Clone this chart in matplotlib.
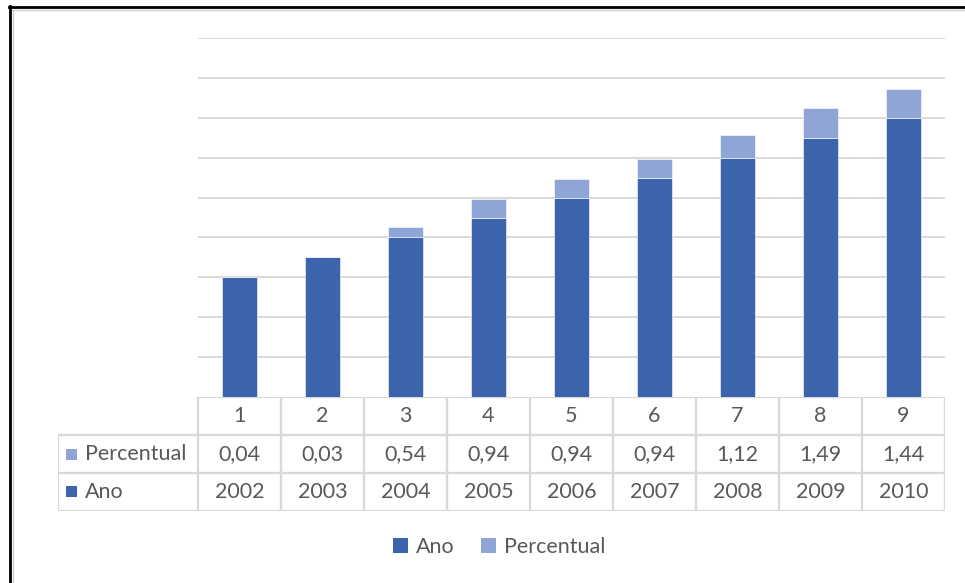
import matplotlib
matplotlib.use("Agg")
import matplotlib.pyplot as plt
from matplotlib.lines import Line2D
from matplotlib.patches import Rectangle, Patch

plt.rcParams['font.family'] = ['Lato', 'DejaVu Sans']

# Data
categories = ["1", "2", "3", "4", "5", "6", "7", "8", "9"]
ano = [2002, 2003, 2004, 2005, 2006, 2007, 2008, 2009, 2010]
percentual = [0.04, 0.03, 0.54, 0.94, 0.94, 0.94, 1.12, 1.49, 1.44]
percentual_labels = ["0,04", "0,03", "0,54", "0,94", "0,94", "0,94", "1,12", "1,49", "1,44"]

DARK = "#3B64AD"
LIGHT = "#8FA5D6"
GRID = "#D9D9D9"
TEXT = "#595959"
FS = 15.5

W, H = 965, 583
fig = plt.figure(figsize=(W / 100, H / 100), dpi=100)
fig.patch.set_facecolor("white")

def fx(px):
    return px / W

def fy(py):
    return 1 - py / H

# Plot area
left, right, top, bottom = 198, 945, 38, 397
ax = fig.add_axes([fx(left), fy(bottom), fx(right - left), (bottom - top) / H])
n = len(categories)
x = list(range(n))
ymin, ymax = 1996, 2014
ax.bar(x, [a - ymin for a in ano], bottom=ymin, width=0.41, color=DARK,
       edgecolor="white", linewidth=0.4, zorder=3, label="Ano")
ax.bar(x, percentual, bottom=ano, width=0.41, color=LIGHT,
       edgecolor="white", linewidth=0.4, zorder=3, label="Percentual")
ax.set_xlim(-0.5, n - 0.5)
ax.set_ylim(ymin, ymax)
ax.set_yticks(range(ymin + 2, ymax + 1, 2))
ax.yaxis.grid(True, color=GRID, linewidth=1.4, zorder=0)
ax.tick_params(left=False, bottom=False, labelleft=False, labelbottom=False)
for s in ax.spines.values():
    s.set_visible(False)

# Data table below the plot area
tleft = 58
row_h = 38
cat_w = (right - left) / n
tab = fig.add_axes([fx(tleft), fy(bottom + 3 * row_h), fx(right - tleft), 3 * row_h / H])
x0 = -0.5 - (left - tleft) / cat_w
tab.set_xlim(x0, n - 0.5)
tab.set_ylim(3, 0)
tab.axis("off")

lkw = dict(color=GRID, linewidth=1.7, solid_capstyle="projecting")
# horizontal lines
tab.plot([-0.5, n - 0.5], [0, 0], **lkw)
for r in (1, 2, 3):
    tab.plot([x0, n - 0.5], [r, r], **lkw)
# vertical lines
for i in range(n + 1):
    tab.plot([i - 0.5, i - 0.5], [0, 3], **lkw)
tab.plot([x0, x0], [1, 3], **lkw)

for i in range(n):
    tab.text(i, 0.5, categories[i], ha="center", va="center", fontsize=FS, color=TEXT)
    tab.text(i, 1.5, percentual_labels[i], ha="center", va="center", fontsize=FS, color=TEXT)
    tab.text(i, 2.5, str(ano[i]), ha="center", va="center", fontsize=FS, color=TEXT)

# row headers with colour keys
key_w = 11 / cat_w
key_x = x0 + 8 / cat_w
for r, (name, col) in enumerate([("Percentual", LIGHT), ("Ano", DARK)], start=1):
    tab.add_patch(Rectangle((key_x, r + 0.5 - 5.5 / row_h), key_w, 11 / row_h,
                            facecolor=col, edgecolor="none"))
    tab.text(x0 + 27 / cat_w, r + 0.5, name, ha="left", va="center", fontsize=FS, color=TEXT)

# Legend
handles = [Patch(facecolor=DARK, label="Ano"), Patch(facecolor=LIGHT, label="Percentual")]
leg = fig.legend(handles=handles, loc="center", bbox_to_anchor=(fx(499), fy(547)),
                 ncol=2, frameon=False, fontsize=FS, handlelength=0.7, handleheight=0.7,
                 handletextpad=0.35, columnspacing=1.25)
for t in leg.get_texts():
    t.set_color(TEXT)

# Outer frame (top and left edges)
fig.add_artist(Line2D([fx(9), 1], [fy(7), fy(7)], color="black", linewidth=2.0))
fig.add_artist(Line2D([fx(12), 1], [fy(9.5), fy(9.5)], color="#D0D0D0", linewidth=1.0))
fig.add_artist(Line2D([fx(10), fx(10)], [fy(6), 0], color="black", linewidth=2.0))
fig.add_artist(Line2D([fx(12.5), fx(12.5)], [fy(10), 0], color="#D0D0D0", linewidth=1.0))

fig.savefig("out.png", dpi=100, facecolor="white")
